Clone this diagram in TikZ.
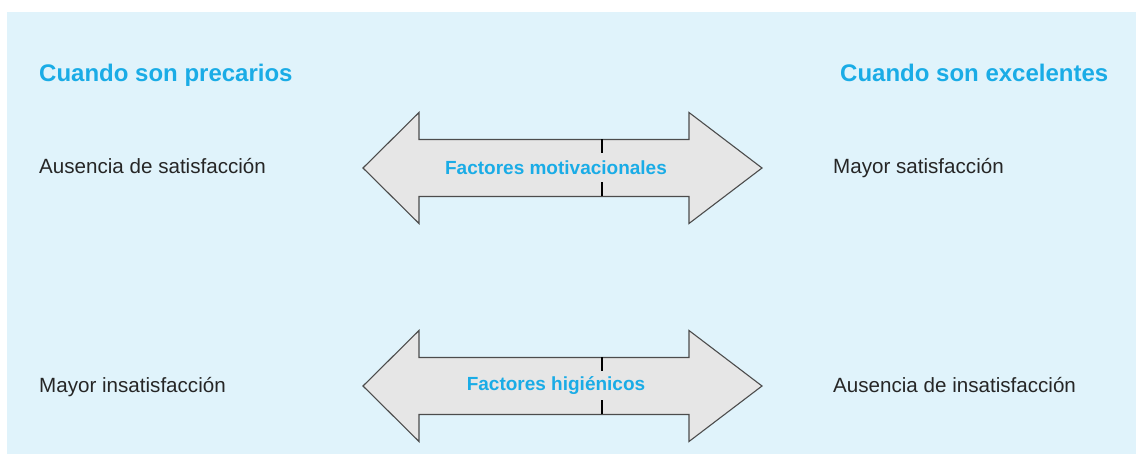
\documentclass[tikz,border=0pt]{standalone}
\usepackage{fontspec}
\setmainfont{Liberation Sans}
\usetikzlibrary{positioning}
\definecolor{fondo}{HTML}{E0F3FB}
\definecolor{celeste}{HTML}{1AACE6}
\definecolor{gris}{HTML}{E6E6E6}

\begin{document}
\begin{tikzpicture}[x=1pt,y=-1pt,
    title node/.style={anchor=base west,inner sep=0pt,text=celeste,font=\fontsize{24}{28}\selectfont\bfseries},
    side node/.style={anchor=base west,inner sep=0pt,text=black!85,font=\fontsize{20.6}{24}\selectfont},
    factor node/.style={inner sep=0pt,text=celeste,font=\fontsize{19}{22}\selectfont\bfseries},
    double shape/.style={draw=black!70,fill=gris,line width=1.1pt,line join=miter},
    tick/.style={draw=black,line width=1.6pt}]

    \useasboundingbox (0,0) rectangle (1136,454);
    \fill[fondo] (7,12) rectangle (1136,454);

    % column titles
    \node[title node] (precarios) at (39,82) {Cuando son precarios};
    \node[title node] (excelentes) at (840,82) {Cuando son excelentes};

    % both factor arrows
    \foreach \cy/\name/\txt in {168/motiv/Factores motivacionales, 386/hig/Factores higiénicos} {
        \draw[double shape] (363,\cy) -- (419,\cy-55.5) -- (419,\cy-28.5) -- (689,\cy-28.5)
            -- (689,\cy-55.5) -- (762,\cy) -- (689,\cy+55.5) -- (689,\cy+28.5)
            -- (419,\cy+28.5) -- (419,\cy+55.5) -- cycle;
        \draw[tick] (602,\cy-28.5) -- ++(0,14);
        \draw[tick] (602,\cy+28.5) -- ++(0,-14);
        \node[factor node] (\name) at (556,\cy) {\txt};
    }

    % outcomes
    \node[side node] (aus sat) at (39,174) {Ausencia de satisfacción};
    \node[side node] (may sat) at (833,174) {Mayor satisfacción};
    \node[side node] (may ins) at (39,392) {Mayor insatisfacción};
    \node[side node] (aus ins) at (833,392) {Ausencia de insatisfacción};
\end{tikzpicture}
\end{document}
